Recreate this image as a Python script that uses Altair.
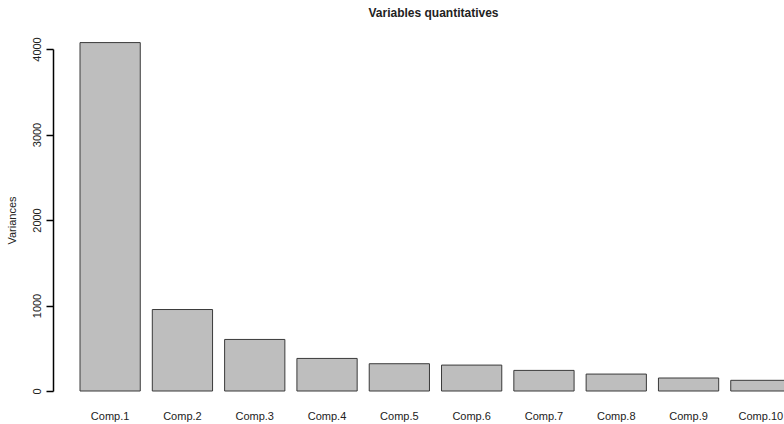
import altair as alt
import pandas as pd

components = ["Comp.1", "Comp.2", "Comp.3", "Comp.4", "Comp.5",
              "Comp.6", "Comp.7", "Comp.8", "Comp.9", "Comp.10"]
variances = [4075, 953, 603, 381, 319, 303, 241, 198, 152, 125]
y_ticks = [0, 1000, 2000, 3000, 4000]

df = pd.DataFrame({"comp": components, "var": variances})

FONT = "Liberation Sans"

bars = alt.Chart(df).mark_bar(
    fill="#BEBEBE", stroke="#3a3a3a", strokeWidth=1
).encode(
    x=alt.X("comp:N", sort=components,
            scale=alt.Scale(range=[27, 738], paddingInner=1/6, paddingOuter=0),
            axis=alt.Axis(title=None, domain=False, ticks=False, labelAngle=0,
                          labelPadding=19, labelFont=FONT, labelFontSize=11,
                          labelColor="#222222")),
    y=alt.Y("var:Q",
            scale=alt.Scale(domain=[0, 4000], nice=False, zero=True),
            axis=alt.Axis(title="Variances", values=y_ticks, grid=False, format="d",
                          labelAngle=270, labelFont=FONT, labelFontSize=11,
                          labelColor="#222222", labelPadding=4,
                          tickSize=7, tickColor="#000000", domainColor="#000000",
                          domain=True, ticks=True, tickWidth=1.5, domainWidth=1.5,
                          tickOpacity=1, domainOpacity=1,
                          titleFont=FONT, titleFontSize=11, titleFontWeight="normal",
                          titleColor="#222222", titlePadding=14)),
)

chart = bars.properties(
    width=731,
    height=342,
    background="white",
    title=alt.TitleParams("Variables quantitatives", font=FONT, fontSize=12,
                          fontWeight="bold", color="#222222", offset=17, dx=15),
    autosize=alt.AutoSizeParams(type="none"),
    padding={"left": 53, "top": 49, "right": 0, "bottom": 33},
).configure_view(stroke=None, strokeWidth=0)

chart.save("out.html", embed_options={"renderer": "svg", "actions": False})
